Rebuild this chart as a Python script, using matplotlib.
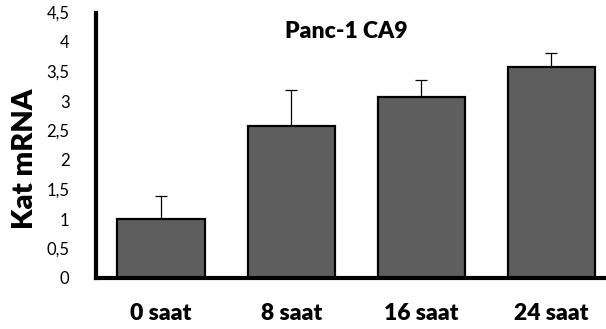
import matplotlib
matplotlib.use("Agg")
import matplotlib.pyplot as plt

# Panc-1 CA9 relative expression
categories = ["0 saat", "8 saat", "16 saat", "24 saat"]
values = [1.0, 2.57, 3.07, 3.58]
errors = [0.39, 0.62, 0.29, 0.24]
yticks = [0, 0.5, 1, 1.5, 2, 2.5, 3, 3.5, 4, 4.5]
ytick_labels = ["0", "0,5", "1", "1,5", "2", "2,5", "3", "3,5", "4", "4,5"]

plt.rcParams['font.family'] = ['Lato', 'DejaVu Sans']

fig = plt.figure(figsize=(6.06, 3.29), dpi=100)
ax = fig.add_axes([96 / 606, 51 / 329, 510 / 606, 265.5 / 329])

x = list(range(len(categories)))
ax.bar(x, values, width=0.67, color='#5e5e5e', edgecolor='black',
       linewidth=1.6, zorder=2)
ax.errorbar(x, values, yerr=[[0] * len(errors), errors], fmt='none',
            ecolor='black', elinewidth=0.9, capsize=4, capthick=0.9, zorder=1)

ax.set_xlim(-0.5, 3.42)
ax.set_ylim(0, 4.5)
ax.set_yticks(yticks)
ax.set_yticklabels(ytick_labels, fontsize=12)
ax.set_xticks(x)
ax.set_xticklabels(categories, fontsize=16.5, fontweight='heavy')
ax.tick_params(axis='y', length=0, pad=19)
ax.tick_params(axis='x', length=0, pad=18)

for s in ['top', 'right']:
    ax.spines[s].set_visible(False)
ax.spines['left'].set_linewidth(3)
ax.spines['bottom'].set_linewidth(3)

ax.set_ylabel("Kat mRNA", fontsize=21, fontweight='heavy')
ax.yaxis.set_label_coords(-0.114, 0.45)
ax.text(0.49, 0.93, "Panc-1 CA9", transform=ax.transAxes, ha='center',
        va='center', fontsize=16.5, fontweight='heavy')

fig.savefig("out.png", dpi=100)
